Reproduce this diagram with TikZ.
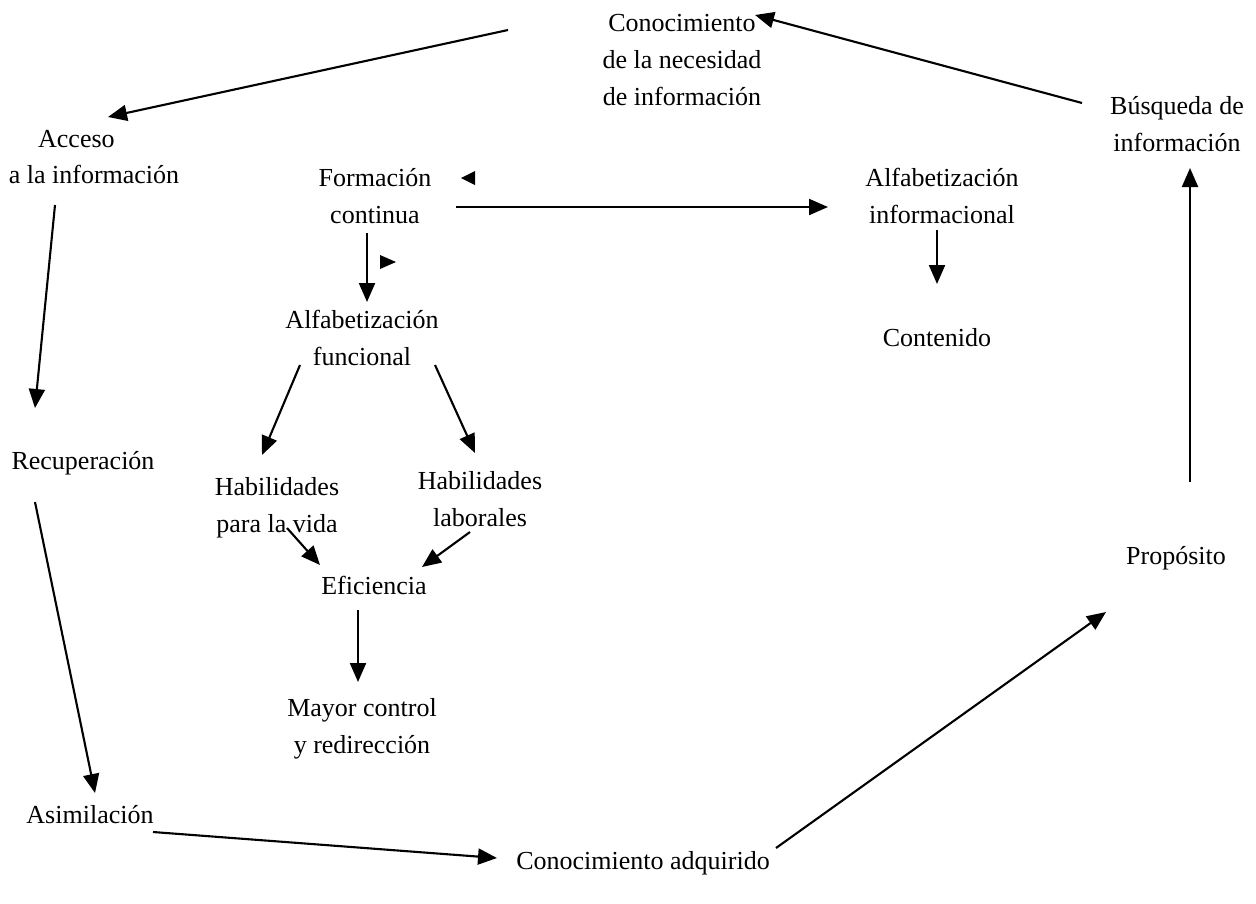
\documentclass[tikz,border=0pt]{standalone}
\usepackage{fontspec}
\setmainfont{Liberation Serif}
\usetikzlibrary{arrows.meta,positioning}

\begin{document}
\begin{tikzpicture}[
    x=0.02cm,y=-0.02cm,
    font=\fontsize{14.8}{21}\selectfont,
    term/.style={align=center,inner sep=0pt},
    arrow/.style={-{Triangle[length=3.8mm,width=3.2mm]},line width=1.2pt}
  ]
    \useasboundingbox (0,0) rectangle (1256,903);

    \node[term] (need) at (682,60) {Conocimiento\\de la necesidad\\de información};
    \node[term] (access) at (94,157) {Acceso\hspace*{20pt}\\a la información};
    \node[term] (formacion) at (375,196) {Formación\\continua};
    \node[term] (alfinf) at (942,196) {Alfabetización\\informacional};
    \node[term] (busq) at (1177,124) {Búsqueda de\\información};
    \node[term] (alffun) at (362,338) {Alfabetización\\funcional};
    \node[term] (contenido) at (937,338) {Contenido};
    \node[term] (recup) at (83,463) {Recuperación};
    \node[term] (hvida) at (277,508) {Habilidades\\para la vida};
    \node[term] (hlab) at (480,499) {Habilidades\\laborales};
    \node[term] (prop) at (1176,558) {Propósito};
    \node[term] (efic) at (374,585) {Eficiencia};
    \node[term] (mayor) at (362,729) {Mayor control\\y redirección};
    \node[term] (asim) at (90,815) {Asimilación};
    \node[term] (conadq) at (643,863) {Conocimiento adquirido};

    % outer cycle
    \draw[arrow] ([shift={(-174,-30)}]need.center) -- ([shift={(14,-40)}]access.center);
    \draw[arrow] ([shift={(-39,48)}]access.center) -- ([shift={(-48,-55)}]recup.center);
    \draw[arrow] ([shift={(-48,39)}]recup.center) -- ([shift={(5,-22)}]asim.center);
    \draw[arrow] ([shift={(63,17)}]asim.center) -- ([shift={(-146,-5)}]conadq.center);
    \draw[arrow] ([shift={(133,-15)}]conadq.center) -- ([shift={(-70,54)}]prop.center);
    \draw[arrow] ([shift={(14,-76)}]prop.center) -- ([shift={(13,44)}]busq.center);
    \draw[arrow] ([shift={(-95,-21)}]busq.center) -- ([shift={(73,-45)}]need.center);

    % inner branch
    \draw[arrow] ([shift={(81,11)}]formacion.center) -- ([shift={(-114,11)}]alfinf.center);
    \draw[arrow] ([shift={(-8,37)}]formacion.center) -- ([shift={(5,-36)}]alffun.center);
    \draw[arrow] ([shift={(-5,34)}]alfinf.center) -- ([shift={(0,-54)}]contenido.center);
    \draw[arrow] ([shift={(-62,27)}]alffun.center) -- ([shift={(-15,-53)}]hvida.center);
    \draw[arrow] ([shift={(73,27)}]alffun.center) -- ([shift={(-5,-46)}]hlab.center);
    \draw[arrow] ([shift={(10,20)}]hvida.center) -- ([shift={(-54,-20)}]efic.center);
    \draw[arrow] ([shift={(-10,33)}]hlab.center) -- ([shift={(48,-18)}]efic.center);
    \draw[arrow] ([shift={(-16,25)}]efic.center) -- ([shift={(-4,-47)}]mayor.center);

    % stray tips
    \fill (475,171) -- ++(0,14) -- ++(-14,-7) -- cycle;
    \fill (380,255) -- ++(0,14) -- ++(16,-7) -- cycle;
  \end{tikzpicture}
\end{document}
